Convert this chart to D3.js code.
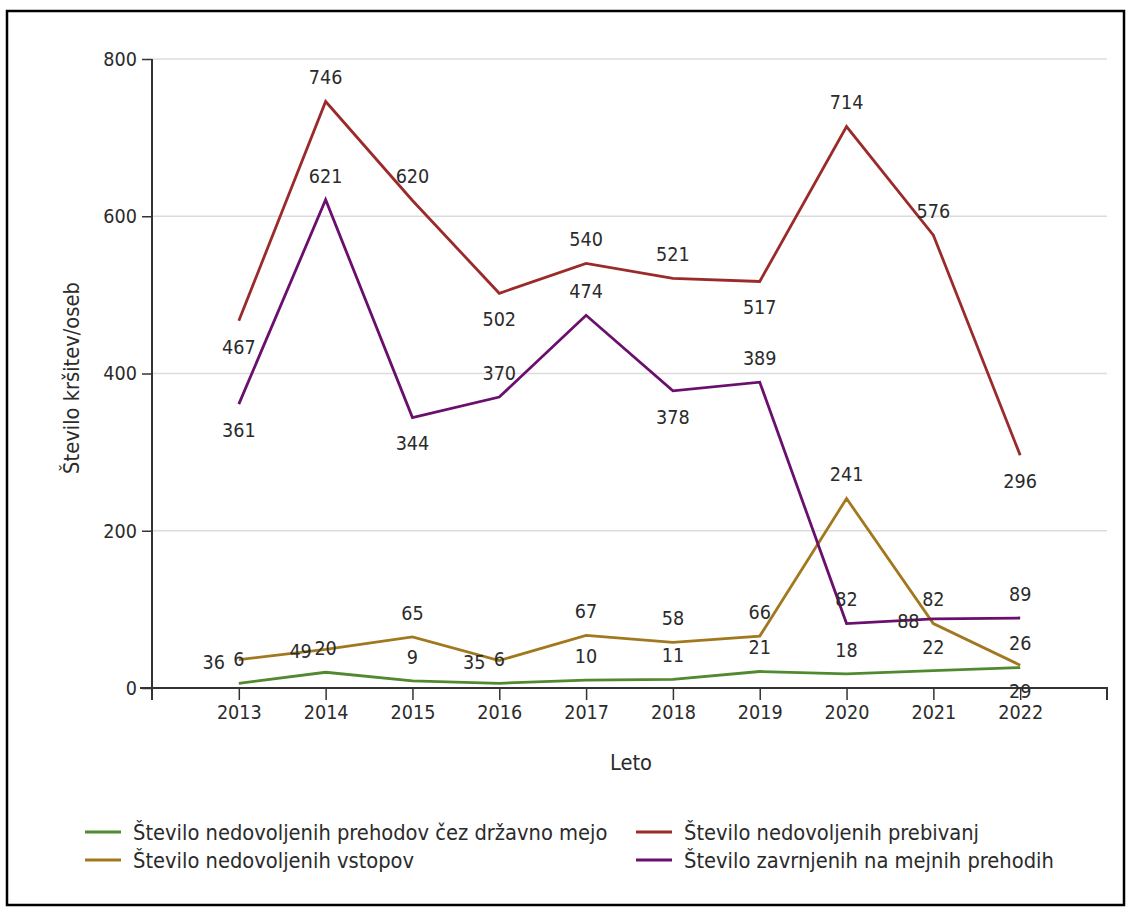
<!DOCTYPE html>
<html>
<head>
<meta charset="utf-8">
<script src="https://cdn.jsdelivr.net/npm/d3@7"></script>
<style>
  html, body { margin: 0; padding: 0; background: #fff; }
  svg { display: block; }
  text { font-family: "DejaVu Sans Condensed", "DejaVu Sans", sans-serif; fill: #2b2b2b; }
</style>
</head>
<body>
<svg id="chart" width="1132" height="915"></svg>
<script>
const years = [2013, 2014, 2015, 2016, 2017, 2018, 2019, 2020, 2021, 2022];
const yTicks = [0, 200, 400, 600, 800];

const seriesNames = [
  "Število nedovoljenih prehodov čez državno mejo",
  "Število nedovoljenih prebivanj",
  "Število nedovoljenih vstopov",
  "Število zavrnjenih na mejnih prehodih"
];
const prehodi   = [6, 20, 9, 6, 10, 11, 21, 18, 22, 26];
const prebivanj = [467, 746, 620, 502, 540, 521, 517, 714, 576, 296];
const vstopi    = [36, 49, 65, 35, 67, 58, 66, 241, 82, 29];
const zavrnjeni = [361, 621, 344, 370, 474, 378, 389, 82, 88, 89];

// label placement codes: a = above, b = below, l = left
const prehodiPos   = ["a","a","a","a","a","a","a","a","a","a"];
const prebivanjPos = ["b","a","a","b","a","a","b","a","a","b"];
const vstopiPos    = ["l","l","a","l","a","a","a","a","a","b"];
const zavrnjeniPos = ["b","a","b","a","a","b","a","a","l","a"];

const colors = ["#50892f", "#9b2b2b", "#a2781f", "#6a0f6e"];

const series = [
  { name: seriesNames[0], values: prehodi,   pos: prehodiPos,   color: colors[0] },
  { name: seriesNames[1], values: prebivanj, pos: prebivanjPos, color: colors[1] },
  { name: seriesNames[2], values: vstopi,    pos: vstopiPos,    color: colors[2] },
  { name: seriesNames[3], values: zavrnjeni, pos: zavrnjeniPos, color: colors[3] }
];

const numFont = "19.6px";
const titleFont = "21.7px";

const svg = d3.select("#chart");

// frame
svg.append("rect").attr("x", 7).attr("y", 11).attr("width", 1117).attr("height", 894)
  .attr("fill", "none").attr("stroke", "#000").attr("stroke-width", 2.5);

const x = d3.scaleLinear().domain([2012, 2023]).range([152, 1107]);
const y = d3.scaleLinear().domain([0, 800]).range([688, 59]);

// gridlines
svg.append("g").selectAll("line").data(yTicks.filter(d => d > 0)).join("line")
  .attr("x1", 152).attr("x2", 1107)
  .attr("y1", d => y(d)).attr("y2", d => y(d))
  .attr("stroke", "#dcdcdc").attr("stroke-width", 1.5);

// y axis
const yAxis = svg.append("g").attr("transform", "translate(152,0)")
  .call(d3.axisLeft(y).tickValues(yTicks).tickSize(10).tickSizeOuter(0).tickPadding(5));
yAxis.select(".domain").remove();
yAxis.selectAll(".tick line").attr("stroke", "#333").attr("stroke-width", 1.5);
yAxis.selectAll("text").style("font-size", numFont).attr("fill", "#333")
  .style("font-family", "DejaVu Sans Condensed, DejaVu Sans");
svg.append("line").attr("x1", 152).attr("x2", 152).attr("y1", y(800)).attr("y2", 700)
  .attr("stroke", "#333").attr("stroke-width", 2);

// x axis
const xAxis = svg.append("g").attr("transform", `translate(0,${y(0)})`)
  .call(d3.axisBottom(x).tickValues(years).tickFormat(d3.format("d")).tickSize(12).tickSizeOuter(12).tickPadding(5));
xAxis.select(".domain").attr("stroke", "#333").attr("stroke-width", 2)
  .attr("d", `M140,0H1107V12`);
xAxis.selectAll(".tick line").attr("stroke", "#333").attr("stroke-width", 1.5);
xAxis.selectAll("text").style("font-size", numFont).attr("fill", "#333")
  .style("font-family", "DejaVu Sans Condensed, DejaVu Sans");

// axis titles
svg.append("text").attr("x", 631).attr("y", 762).attr("text-anchor", "middle")
  .attr("dy", "0.35em").style("font-size", titleFont).text("Leto");
svg.append("text").attr("transform", "translate(71,378) rotate(-90)")
  .attr("text-anchor", "middle").attr("dy", "0.35em").style("font-size", titleFont)
  .text("Število kršitev/oseb");

// lines
const line = d3.line().x((d, i) => x(years[i])).y(d => y(d));
series.forEach(s => {
  svg.append("path").datum(s.values).attr("d", line)
    .attr("fill", "none").attr("stroke", s.color).attr("stroke-width", 2.8)
    .attr("stroke-linejoin", "miter");
});

// data labels
series.forEach(s => {
  svg.append("g").selectAll("text").data(s.values).join("text")
    .attr("x", (d, i) => x(years[i]) + (s.pos[i] === "l" ? -25 : 0))
    .attr("y", (d, i) => y(d) + (s.pos[i] === "a" ? -24 : s.pos[i] === "b" ? 26 : 2))
    .attr("dy", "0.35em").attr("text-anchor", "middle")
    .style("font-size", numFont).attr("fill", "#222")
    .text(d => d);
});

// legend
const legPos = [[85, 832], [636, 832], [85, 860], [636, 860]];
series.forEach((s, i) => {
  const [lx, ly] = legPos[i];
  svg.append("line").attr("x1", lx).attr("x2", lx + 36).attr("y1", ly).attr("y2", ly)
    .attr("stroke", s.color).attr("stroke-width", 3);
  svg.append("text").attr("x", lx + 48).attr("y", ly).attr("dy", "0.35em")
    .style("font-size", titleFont).attr("fill", "#333").text(s.name);
});
</script>
</body>
</html>
